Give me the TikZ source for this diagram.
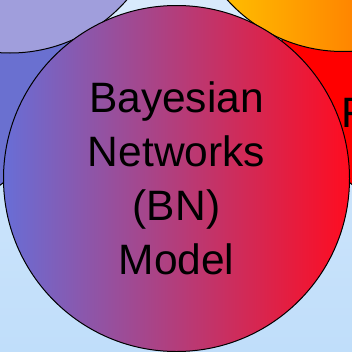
\documentclass[tikz,border=0pt]{standalone}
\usepackage{fontspec}
\setmainfont{Liberation Sans}

\definecolor{bgtop}{RGB}{216,234,252}
\definecolor{bgbottom}{RGB}{192,222,250}
\definecolor{bnleft}{RGB}{104,110,214}
\definecolor{bnmid}{RGB}{202,80,150}
\definecolor{bnright}{RGB}{255,12,32}
\definecolor{lavender}{RGB}{160,158,220}
\definecolor{sideblue}{RGB}{106,112,208}
\definecolor{orangeA}{RGB}{255,205,0}
\definecolor{orangeB}{RGB}{255,70,0}

\begin{document}
\begin{tikzpicture}[
                x=1pt, y=-1pt,
                bubble/.style = {circle, draw=black, line width=1pt, inner sep=0pt, minimum size=#1},
                bigtext/.style = {font=\fontsize{42.5}{54}\selectfont, align=center}
        ]
        \useasboundingbox (0,0) rectangle (352,351);
        \fill[top color=bgtop, bottom color=bgbottom] (0,0) rectangle (352,351);
        % side circles
        \node[bubble=360pt, fill=sideblue] (left) at (-109,42) {};
        \node[bubble=360pt, fill=red] (right) at (462,42) {};
        \node[bigtext, anchor=base west] (righttext) at (338,127.5) {F};
        % upper circles
        \node[bubble=310pt, fill=lavender] (upleft) at (10,-102) {};
        \node[bubble=311pt, left color=orangeA, right color=orangeB] (upright) at (343,-104) {};
        % centre circle
        \node[bubble=346pt, bigtext, left color=bnleft, middle color=bnmid, right color=bnright] (bn) at (176.5,178.5) {Bayesian\\Networks\\(BN)\\Model};
\end{tikzpicture}
\end{document}
